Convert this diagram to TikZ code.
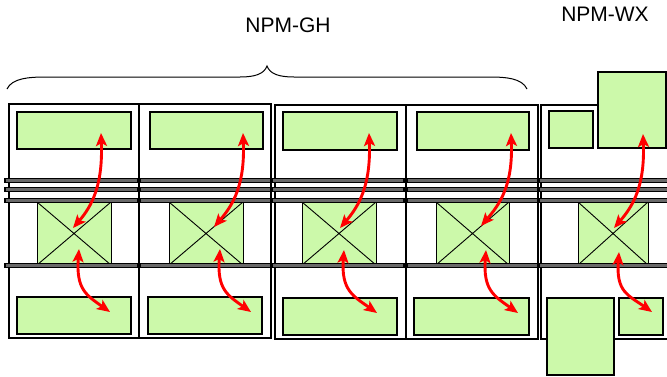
\documentclass[tikz,border=0pt]{standalone}
\usepackage{fontspec}
\setmainfont{Liberation Sans}
\usetikzlibrary{arrows.meta}
\definecolor{boxgreen}{RGB}{204,249,170}
\definecolor{railgray}{RGB}{105,105,105}
\begin{document}
\begin{tikzpicture}[x=1pt,y=-1pt,
  outer/.style={draw=black,line width=1.4pt},
  gbox/.style={draw=black,fill=boxgreen,line width=1.7pt},
  xbox/.style={draw=black,fill=boxgreen,line width=0.9pt},
  xline/.style={draw=black,line width=0.9pt},
  rail/.style={draw=black,fill=railgray,line width=1.2pt},
  link/.style={draw=red,line width=2.9pt,{Stealth[length=13pt,width=11pt,inset=3pt]}-{Stealth[length=13pt,width=11pt,inset=3pt]}},
  lbl/.style={font=\fontsize{21}{25}\selectfont}]
\useasboundingbox (0,0) rectangle (667,376);
\clip (0,0) rectangle (667,376);

% outer frames
\draw[outer] (9,104) rectangle (271,338);
\draw[outer] (139,104) -- (139,338);
\draw[outer] (275,105) rectangle (538,339);
\draw[outer] (406,105) -- (406,339);
\draw[outer] (541,105) rectangle (675,339);

% crossed boxes
\foreach \l/\r in {37/111,169/243,302/376,436/509,578/648}{
  \draw[xbox] (\l,202) rectangle (\r,265);
  \draw[xline] (\l,202) -- (\r,265) (\l,265) -- (\r,202);
}

% rails
\foreach \a/\b in {5/137.5,140/271,272/404,407/538,539/672}{
  \foreach \y in {180.3,189.7,200.3}{
    \draw[rail] (\a,\y-2) rectangle (\b,\y+2);
  }
  \draw[rail] (\a,263.5) rectangle (\b,267.5);
}

% green boxes
\draw[gbox] (17,112) rectangle (131,149);
\draw[gbox] (150,112) rectangle (263,149);
\draw[gbox] (283,112) rectangle (397,150);
\draw[gbox] (417,112) rectangle (529,150);
\draw[gbox] (17,297) rectangle (131,334);
\draw[gbox] (148,297) rectangle (262,334);
\draw[gbox] (283,298) rectangle (397,335);
\draw[gbox] (414,298) rectangle (529,335);
\draw[gbox] (549,111) rectangle (593,148);
\draw[gbox] (598,72) rectangle (666,148);
\draw[gbox] (547,298) rectangle (614,375);
\draw[gbox] (619,298) rectangle (663,335);

% brace
\draw[line width=1pt] (7,89) .. controls (12,78) and (30,77) .. (45,77) -- (240,77)
  .. controls (255,77) and (264,74) .. (267,66)
  .. controls (270,74) and (279,77) .. (294,77) -- (490,77)
  .. controls (505,77) and (522,78) .. (527,89);

% labels
\node[lbl] (gh) at (288,25) {NPM-GH};
\node[lbl] (wx) at (605,14) {NPM-WX};

% arrow end points
\coordinate (ts1) at (101,133); \coordinate (te1) at (73,228);
\coordinate (bs1) at (79,249);  \coordinate (be1) at (110,312);
\coordinate (ts2) at (243,133); \coordinate (te2) at (214,227);
\coordinate (bs2) at (220,249); \coordinate (be2) at (251,312);
\coordinate (ts3) at (369,133); \coordinate (te3) at (340,228);
\coordinate (bs3) at (344,250); \coordinate (be3) at (377,313);
\coordinate (ts4) at (511,133); \coordinate (te4) at (481,226);
\coordinate (bs4) at (486,250); \coordinate (be4) at (518,313);
\coordinate (ts5) at (643,134); \coordinate (te5) at (614,228);
\coordinate (bs5) at (619,252); \coordinate (be5) at (652,312);

\foreach \i in {1,...,5}{
  \draw[link] (ts\i) .. controls +(2,52) and +(19,-22) .. (te\i);
  \draw[link] (bs\i) .. controls +(-3,40) and +(-24,-17) .. (be\i);
}
\end{tikzpicture}
\end{document}
